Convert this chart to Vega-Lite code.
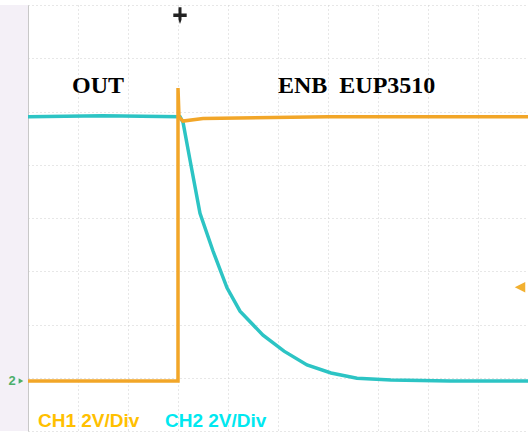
{
  "$schema": "https://vega.github.io/schema/vega-lite/v6.json",
  "width": 500,
  "height": 426,
  "autosize": {"type": "none"},
  "padding": {"left": 28, "top": 5, "right": 0, "bottom": 5},
  "background": "white",
  "config": {"view": {"stroke": null}},
  "datasets": {
    "traces": [
      {"ch": "CH2", "i": 0, "t": 0, "v": 1.9},
      {"ch": "CH2", "i": 1, "t": 1.5, "v": 1.92},
      {"ch": "CH2", "i": 2, "t": 3.04, "v": 1.9},
      {"ch": "CH2", "i": 3, "t": 3.1, "v": 1.8},
      {"ch": "CH2", "i": 4, "t": 3.24, "v": 1.09},
      {"ch": "CH2", "i": 5, "t": 3.44, "v": 0.09},
      {"ch": "CH2", "i": 6, "t": 3.7, "v": -0.62},
      {"ch": "CH2", "i": 7, "t": 3.98, "v": -1.31},
      {"ch": "CH2", "i": 8, "t": 4.24, "v": -1.75},
      {"ch": "CH2", "i": 9, "t": 4.7, "v": -2.2},
      {"ch": "CH2", "i": 10, "t": 5.12, "v": -2.5},
      {"ch": "CH2", "i": 11, "t": 5.58, "v": -2.76},
      {"ch": "CH2", "i": 12, "t": 6.06, "v": -2.91},
      {"ch": "CH2", "i": 13, "t": 6.58, "v": -3.01},
      {"ch": "CH2", "i": 14, "t": 7.26, "v": -3.04},
      {"ch": "CH2", "i": 15, "t": 8.44, "v": -3.06},
      {"ch": "CH2", "i": 16, "t": 10, "v": -3.06},
      {"ch": "CH1", "i": 0, "t": 0, "v": -3.06},
      {"ch": "CH1", "i": 1, "t": 3.0, "v": -3.06},
      {"ch": "CH1", "i": 2, "t": 3.0, "v": 2.44},
      {"ch": "CH1", "i": 3, "t": 3.02, "v": 1.9},
      {"ch": "CH1", "i": 4, "t": 3.1, "v": 1.82},
      {"ch": "CH1", "i": 5, "t": 3.5, "v": 1.87},
      {"ch": "CH1", "i": 6, "t": 6, "v": 1.9},
      {"ch": "CH1", "i": 7, "t": 10, "v": 1.9}
    ],
    "labels": [
      {"t": 0.88, "v": 2.35, "label": "OUT"},
      {"t": 5.0, "v": 2.35, "label": "ENB\u00a0\u00a0EUP3510"}
    ]
  },
  "layer": [
    {
      "data": {"values": [{"a": -0.56, "b": 0}]},
      "mark": {"type": "rect", "color": "#f4f0f7", "clip": false},
      "encoding": {
        "x": {"field": "a", "type": "quantitative", "scale": {"domain": [0, 10]}},
        "x2": {"field": "b"}
      }
    },
    {
      "data": {"name": "traces"},
      "mark": {"type": "line", "strokeWidth": 3.5, "clip": true},
      "encoding": {
        "x": {
          "field": "t", "type": "quantitative",
          "scale": {"domain": [0, 10], "nice": false, "zero": false},
          "axis": {"values": [0,1,2,3,4,5,6,7,8,9,10], "labels": false, "ticks": false, "title": null,
                   "domain": false, "grid": true, "gridColor": "#cfcfcf", "gridDash": [1, 3], "gridWidth": 1}
        },
        "y": {
          "field": "v", "type": "quantitative",
          "scale": {"domain": [-4, 4], "nice": false, "zero": false},
          "axis": {"values": [-4,-3,-2,-1,0,1,2,3,4], "labels": false, "ticks": false, "title": null,
                   "domain": true, "domainColor": "#c8c8c8", "grid": true, "gridColor": "#cfcfcf", "gridDash": [1, 3], "gridWidth": 1}
        },
        "color": {"field": "ch", "type": "nominal", "scale": {"domain": ["CH1", "CH2"], "range": ["#f2a628", "#2cc4c4"]}, "legend": null},
        "order": {"field": "i", "type": "quantitative"}
      }
    },
    {
      "data": {"name": "labels"},
      "mark": {"type": "text", "align": "left", "baseline": "alphabetic", "font": "Liberation Serif", "fontWeight": "bold", "fontSize": 24, "color": "black"},
      "encoding": {
        "x": {"field": "t", "type": "quantitative"},
        "y": {"field": "v", "type": "quantitative"},
        "text": {"field": "label"}
      }
    },
    {
      "data": {"values": [{"t": 0.2, "v": -3.92, "label": "CH1 2V/Div"}]},
      "mark": {"type": "text", "align": "left", "baseline": "alphabetic", "font": "Liberation Sans", "fontWeight": "bold", "fontSize": 19, "color": "#ffc000"},
      "encoding": {
        "x": {"field": "t", "type": "quantitative"},
        "y": {"field": "v", "type": "quantitative"},
        "text": {"field": "label"}
      }
    },
    {
      "data": {"values": [{"t": 2.74, "v": -3.92, "label": "CH2 2V/Div"}]},
      "mark": {"type": "text", "align": "left", "baseline": "alphabetic", "font": "Liberation Sans", "fontWeight": "bold", "fontSize": 19, "color": "#00e8f0"},
      "encoding": {
        "x": {"field": "t", "type": "quantitative"},
        "y": {"field": "v", "type": "quantitative"},
        "text": {"field": "label"}
      }
    },
    {
      "data": {"values": [{"t": 3.04, "v": 3.8}]},
      "mark": {"type": "point", "filled": true, "color": "#222", "size": 280, "opacity": 1,
               "shape": "M-0.18,-1 L0.18,-1 L0.18,-0.25 L0.8,-0.25 L0.8,0.15 L0.18,0.15 L0.18,0.5 L0,1 L-0.18,0.5 L-0.18,0.15 L-0.8,0.15 L-0.8,-0.25 L-0.18,-0.25 Z"},
      "encoding": {
        "x": {"field": "t", "type": "quantitative"},
        "y": {"field": "v", "type": "quantitative"}
      }
    },
    {
      "data": {"values": [{"t": 9.84, "v": -1.3}]},
      "mark": {"type": "point", "filled": true, "color": "#f2b030", "size": 110, "opacity": 1, "shape": "M1,-1 L1,1 L-1,0 Z"},
      "encoding": {
        "x": {"field": "t", "type": "quantitative"},
        "y": {"field": "v", "type": "quantitative"}
      }
    },
    {
      "data": {"values": [{"t": -0.32, "v": -3.06, "label": "2"}]},
      "mark": {"type": "text", "align": "center", "baseline": "middle", "font": "Liberation Sans", "fontWeight": "bold", "fontSize": 13, "color": "#4caf6a", "clip": false},
      "encoding": {
        "x": {"field": "t", "type": "quantitative"},
        "y": {"field": "v", "type": "quantitative"},
        "text": {"field": "label"}
      }
    },
    {
      "data": {"values": [{"t": -0.14, "v": -3.06}]},
      "mark": {"type": "point", "filled": true, "color": "#4caf6a", "size": 30, "opacity": 1, "shape": "triangle-right", "clip": false},
      "encoding": {
        "x": {"field": "t", "type": "quantitative"},
        "y": {"field": "v", "type": "quantitative"}
      }
    }
  ]
}
